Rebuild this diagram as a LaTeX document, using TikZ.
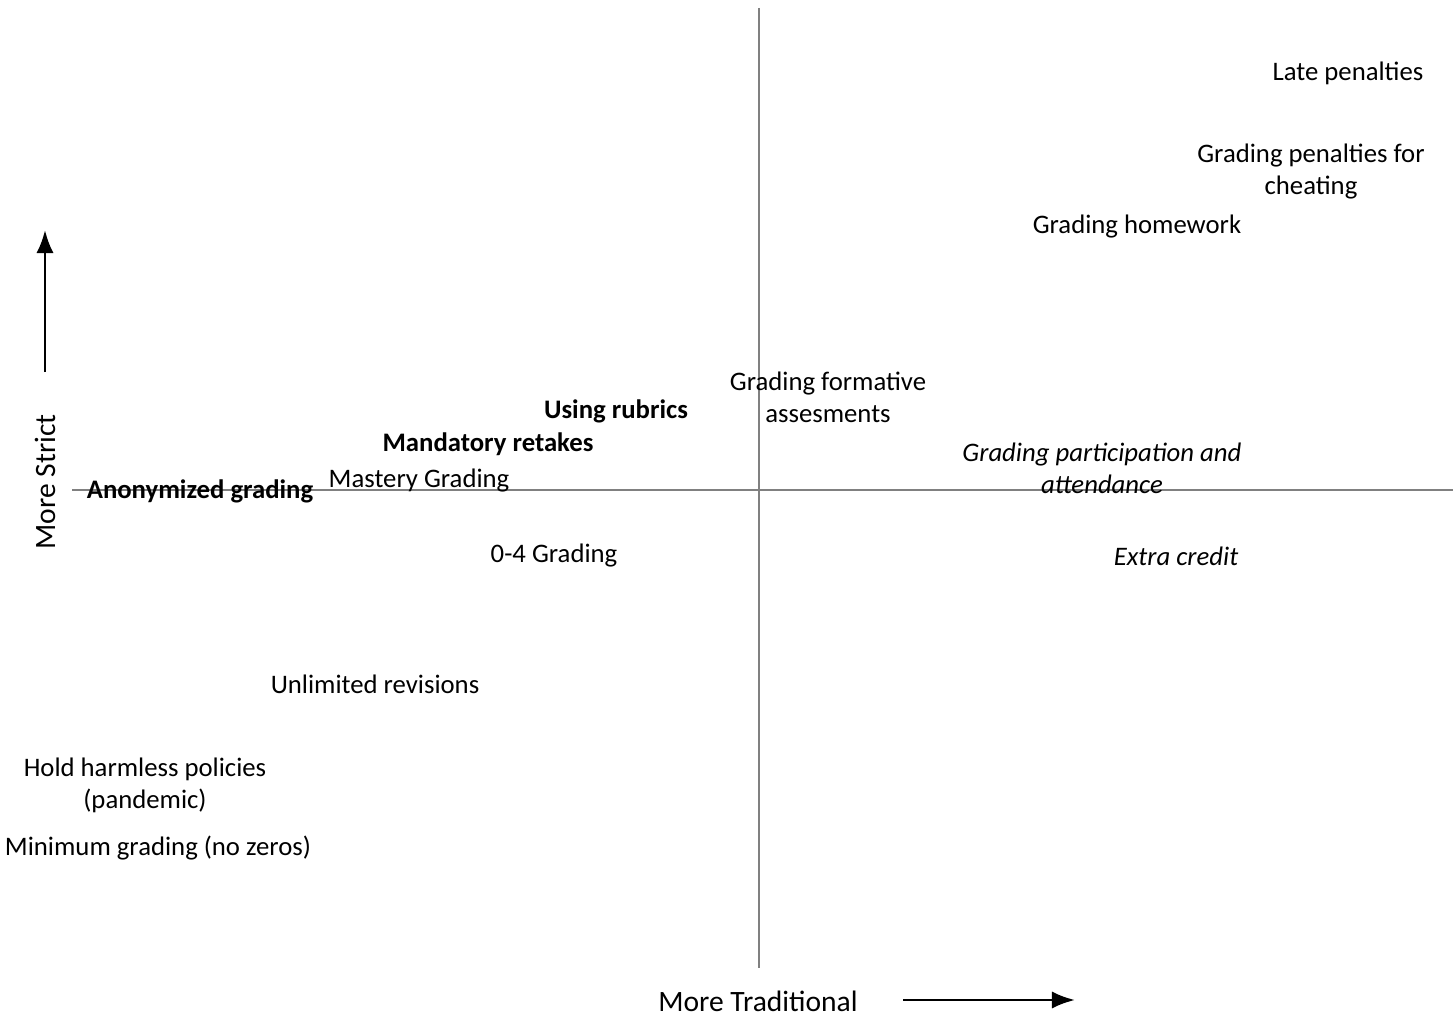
\documentclass[tikz,border=0pt]{standalone}
\usepackage{fontspec}
\setmainfont{Carlito}
\usetikzlibrary{arrows.meta}
\definecolor{AxisGray}{HTML}{808080}
\tikzset{>=Latex,
  lbl/.style={inner sep=0pt, align=center, font=\fontsize{7.6}{9.1}\selectfont},
  blbl/.style={lbl, font=\fontsize{7.6}{9.1}\selectfont\bfseries},
  ilbl/.style={lbl, font=\fontsize{7.6}{9.1}\selectfont\itshape},
  axlbl/.style={inner sep=0pt, font=\fontsize{8.4}{10}\selectfont},
  axis/.style={draw=AxisGray, line width=0.5pt}}
\begin{document}
\begin{tikzpicture}[x=0.01cm, y=-0.01cm]
\useasboundingbox (0,0) rectangle (1456,1018);
% axes
\coordinate (vtop) at (759,8);
\coordinate (vbot) at (759,968);
\coordinate (hleft) at (72,490);
\coordinate (hright) at (1453,490);
\draw[axis] (vtop) -- (vbot);
\draw[axis] (hleft) -- (hright);
% direction arrows
\coordinate (sa) at (45,372);
\coordinate (sb) at (45,230);
\coordinate (ta) at (903,1000);
\coordinate (tb) at (1075,1000);
\draw[->, line width=0.8pt] (sa) -- (sb);
\draw[->, line width=0.8pt] (ta) -- (tb);
\node[axlbl] (trad) at (758,1001) {More Traditional};
\node[axlbl, rotate=90] (strict) at (45,482) {More Strict};
% items
\node[lbl] (late) at (1348,73) {Late penalties};
\node[lbl] (cheat) at (1311,172) {Grading penalties for\\cheating};
\node[lbl] (hw) at (1137,227) {Grading homework};
\node[lbl] (form) at (828,397) {Grading formative\\assesments};
\node[blbl] (rubric) at (616,411) {Using rubrics};
\node[blbl] (retake) at (488,444) {Mandatory retakes};
\node[ilbl] (partic) at (1102,468) {Grading participation and\\attendance};
\node[blbl] (anon) at (200,491) {Anonymized grading};
\node[lbl] (mastery) at (419,481) {Mastery Grading};
\node[lbl] (zerofour) at (554,556) {0-4 Grading};
\node[ilbl] (extra) at (1176,556) {Extra credit};
\node[lbl] (revis) at (375,684) {Unlimited revisions};
\node[lbl] (harm) at (145,785) {Hold harmless policies\\(pandemic)};
\node[lbl] (mingr) at (158,848) {Minimum grading (no zeros)};
\end{tikzpicture}
\end{document}
